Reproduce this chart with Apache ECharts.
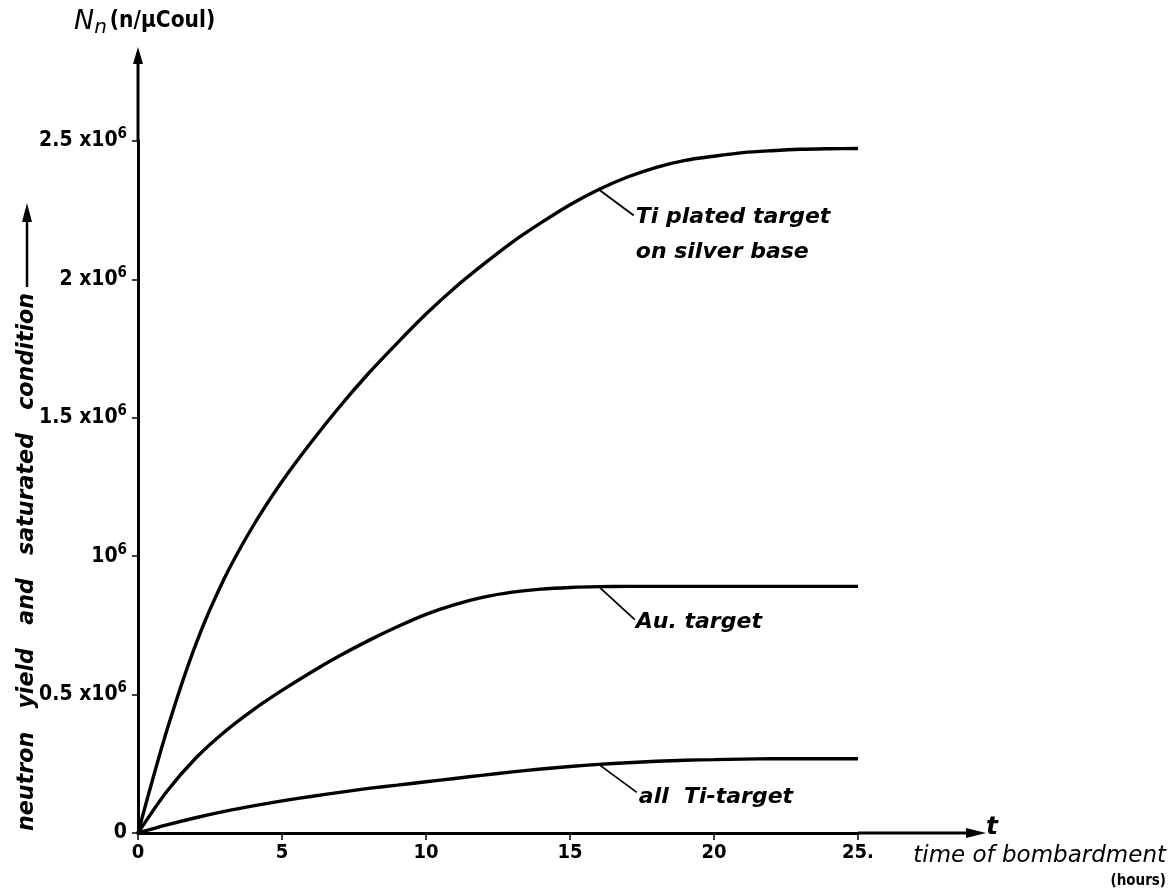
<!DOCTYPE html>
<html>
<head>
<meta charset="utf-8">
<script src="https://cdn.jsdelivr.net/npm/echarts@6/dist/echarts.min.js"></script>
<style>
html,body{margin:0;padding:0;background:#fff;}
#chart{width:1176px;height:895px;}
</style>
</head>
<body>
<div id="chart"></div>
<script>
// time of bombardment (hours)
const hours = [0,1,2,3,4,5,6,7,8,9,10,11,12,13,14,15,16,17,18,19,20,21,22,23,24,25];
// neutron yield, in units of 10^6 n/µCoul
const tiPlatedOnSilver = [0,0.37,0.68,0.92,1.11,1.27,1.41,1.54,1.66,1.77,1.875,1.97,2.055,2.135,2.205,2.27,2.325,2.37,2.405,2.43,2.445,2.458,2.465,2.47,2.472,2.473];
const auTarget = [0,0.15,0.27,0.365,0.445,0.515,0.58,0.64,0.695,0.745,0.79,0.825,0.852,0.87,0.881,0.887,0.89,0.891,0.891,0.891,0.891,0.891,0.891,0.891,0.891,0.891];
const allTiTarget = [0,0.029,0.055,0.078,0.098,0.116,0.132,0.147,0.161,0.173,0.185,0.197,0.209,0.221,0.231,0.24,0.248,0.254,0.259,0.263,0.265,0.267,0.268,0.268,0.268,0.268];
const xTicks = [0,5,10,15,20,25];
const xTickLabels = ['0','5','10','15','20','25.'];
const yTicks = [0,0.5,1,1.5,2,2.5];
const yTickLabels = ['{a|0}','{a|0.5 x10}{s|6}','{a|10}{s|6}','{a|1.5 x10}{s|6}','{a|2 x10}{s|6}','{a|2.5 x10}{s|6}'];
const seriesNames = ['Ti plated target\non silver base','Au. target','all Ti-target'];

const chart = echarts.init(document.getElementById('chart'));
const LBL_FONT = '"DejaVu Sans Condensed","DejaVu Sans",sans-serif';
const IT_FONT = '"DejaVu Sans",sans-serif';

function pairs(ys){ return hours.map((h,i)=>[h, ys[i]]); }

const lineStyle = {color:'#000', width:3.4};
const baseX = {type:'value', min:0, max:25, interval:5, splitLine:{show:false}};
const baseY = {type:'value', min:0, max:2.5, interval:0.5, splitLine:{show:false}};

chart.setOption({
  animation:false,
  backgroundColor:'#fff',
  grid:{left:138, right:318, top:141, bottom:62, containLabel:false, outerBoundsMode:'none'},
  xAxis:[
    Object.assign({}, baseX, {
      axisLine:{show:true, lineStyle:{color:'#000', width:3}},
      axisTick:{show:true, length:3, lineStyle:{color:'#000', width:1.5}},
      axisLabel:{show:true, margin:10, color:'#000', fontFamily:LBL_FONT, fontWeight:'bold', fontSize:20,
        formatter:(v)=>{const i=xTicks.indexOf(v); return i>=0?xTickLabels[i]:'';}}
    }),
    Object.assign({}, baseX, {
      axisLine:{show:false},
      axisTick:{show:true, inside:true, length:7, lineStyle:{color:'#000', width:1.5}},
      axisLabel:{show:false}
    })
  ],
  yAxis:[
    Object.assign({}, baseY, {
      axisLine:{show:true, lineStyle:{color:'#000', width:3}},
      axisTick:{show:true, length:6, lineStyle:{color:'#000', width:1.5}},
      axisLabel:{show:true, margin:11, color:'#000',
        formatter:(v)=>{const i=yTicks.findIndex(t=>Math.abs(t-v)<1e-9); return i>=0?yTickLabels[i]:'';},
        rich:{
          a:{fontFamily:LBL_FONT, fontWeight:'bold', fontSize:21, color:'#000'},
          s:{fontFamily:LBL_FONT, fontWeight:'bold', fontSize:15, color:'#000', verticalAlign:'top', padding:[0,0,13,0]}
        }}
    }),
    Object.assign({}, baseY, {
      axisLine:{show:false},
      axisTick:{show:true, inside:true, length:6, lineStyle:{color:'#000', width:1.5}},
      axisLabel:{show:false}
    })
  ],
  series:[
    {name:seriesNames[0], type:'line', data:pairs(tiPlatedOnSilver), smooth:0.3, showSymbol:false, lineStyle:lineStyle, xAxisIndex:0, yAxisIndex:0},
    {name:seriesNames[1], type:'line', data:pairs(auTarget), smooth:0.3, showSymbol:false, lineStyle:lineStyle, xAxisIndex:0, yAxisIndex:0},
    {name:seriesNames[2], type:'line', data:pairs(allTiTarget), smooth:0.3, showSymbol:false, lineStyle:lineStyle, xAxisIndex:0, yAxisIndex:0}
  ]
});

// decorations computed from the axes
const p0 = chart.convertToPixel({gridIndex:0}, [0,0]);
const pTopY = chart.convertToPixel({gridIndex:0}, [0,2.5]);
const pEndX = chart.convertToPixel({gridIndex:0}, [25,0]);
const yArrowTip = 47, xArrowTip = 986;

function leader(series, t, dx, dy){
  const p = chart.convertToPixel({gridIndex:0}, [t, series[t]]);
  return {start:p, end:[p[0]+dx, p[1]+dy]};
}
const L1 = leader(tiPlatedOnSilver, 16, 35, 26);
const L2 = leader(auTarget, 16, 36, 33);
const L3 = leader(allTiTarget, 16, 38, 28);

const annFont = {fontFamily:IT_FONT, fontStyle:'italic', fontWeight:'bold', fontSize:22, fill:'#000'};

chart.setOption({
  graphic:[
    // y-axis extension with arrow
    {type:'line', shape:{x1:p0[0], y1:pTopY[1], x2:p0[0], y2:yArrowTip+12}, style:{stroke:'#000', lineWidth:3}},
    {type:'polygon', shape:{points:[[p0[0],yArrowTip],[p0[0]-5,yArrowTip+17],[p0[0]+5,yArrowTip+17]]}, style:{fill:'#000'}},
    // x-axis extension with arrow
    {type:'line', shape:{x1:pEndX[0], y1:p0[1], x2:xArrowTip-14, y2:p0[1]}, style:{stroke:'#000', lineWidth:3}},
    {type:'polygon', shape:{points:[[xArrowTip,p0[1]],[xArrowTip-20,p0[1]-5],[xArrowTip-20,p0[1]+5]]}, style:{fill:'#000'}},
    // axis titles
    {type:'text', left:74, top:8, style:{
      rich:{N:{fontFamily:IT_FONT, fontStyle:'italic', fontSize:27, fill:'#000'},
            n:{fontFamily:IT_FONT, fontStyle:'italic', fontSize:20, fill:'#000', padding:[12,3,0,0]},
            u:{fontFamily:LBL_FONT, fontWeight:'bold', fontSize:22.5, fill:'#000'}},
      text:'{N|N}{n|n}{u|(n/µCoul)}'}},
    {type:'text', x:986, y:827, style:{text:'t', fontFamily:IT_FONT, fontStyle:'italic', fontWeight:'bold', fontSize:25, fill:'#000', verticalAlign:'middle', align:'left'}},
    {type:'text', x:1166, y:856, style:{text:'time of bombardment', fontFamily:IT_FONT, fontStyle:'italic', fontSize:23, fill:'#000', align:'right', verticalAlign:'middle'}},
    {type:'text', x:1166, y:881, style:{text:'(hours)', fontFamily:LBL_FONT, fontWeight:'bold', fontSize:15, fill:'#000', align:'right', verticalAlign:'middle'}},
    // rotated y title
    {type:'text', x:27, y:831, rotation:Math.PI/2, style:{text:'neutron   yield   and   saturated   condition', fontFamily:IT_FONT, fontStyle:'italic', fontWeight:'bold', fontSize:22.2, fill:'#000', align:'left', verticalAlign:'middle'}},
    {type:'line', shape:{x1:27, y1:287, x2:27, y2:218}, style:{stroke:'#000', lineWidth:2.5}},
    {type:'polygon', shape:{points:[[27,203],[22,222],[32,222]]}, style:{fill:'#000'}},
    // annotations
    {type:'line', shape:{x1:L1.start[0], y1:L1.start[1], x2:L1.end[0], y2:L1.end[1]}, style:{stroke:'#000', lineWidth:1.8}},
    {type:'text', x:L1.end[0]+2, y:L1.end[1]-16, style:Object.assign({text:'Ti plated target\non silver base', lineHeight:35, align:'left', verticalAlign:'top'}, annFont)},
    {type:'line', shape:{x1:L2.start[0], y1:L2.start[1], x2:L2.end[0], y2:L2.end[1]}, style:{stroke:'#000', lineWidth:1.8}},
    {type:'text', x:L2.end[0]+1, y:L2.end[1]-8, style:Object.assign({text:'Au. target', align:'left', verticalAlign:'top'}, annFont)},
    {type:'line', shape:{x1:L3.start[0], y1:L3.start[1], x2:L3.end[0], y2:L3.end[1]}, style:{stroke:'#000', lineWidth:1.8}},
    {type:'text', x:L3.end[0]+2, y:L3.end[1]-6, style:Object.assign({text:'all  Ti-target', align:'left', verticalAlign:'top'}, annFont)}
  ]
});
</script>
</body>
</html>
